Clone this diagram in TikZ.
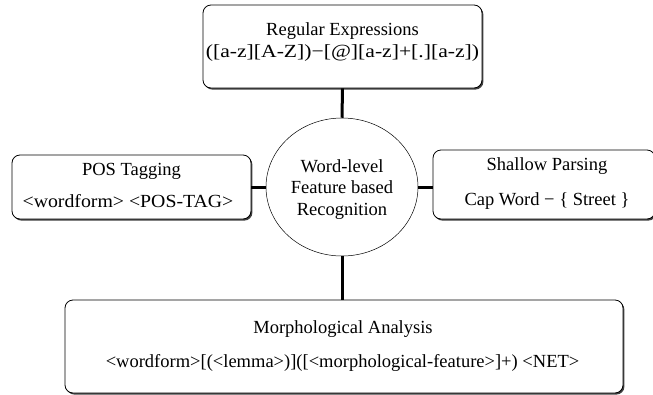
\documentclass[tikz,border=0pt]{standalone}
\usepackage{fontspec}
\setmainfont{Liberation Serif}
\usetikzlibrary{shapes.geometric,shadows}
\begin{document}
\begin{tikzpicture}[x=1pt,y=-1pt,
  box/.style={draw=black, line width=0.8pt, fill=white, rounded corners=8pt,
    drop shadow={shadow xshift=1.4pt, shadow yshift=-1.6pt, fill=black!75, opacity=1},
    inner sep=0pt},
  hub/.style={draw=black, line width=0.5pt, fill=white, ellipse, inner sep=0pt},
  txt/.style={anchor=base, inner sep=0pt, font=\fontsize{18.5}{22}\selectfont},
  link/.style={line width=3pt}
]
\useasboundingbox (0,0) rectangle (653,394);

% frames
\node[box, minimum width=279pt, minimum height=83pt] (regex) at (342.5,46.5) {};
\node[box, minimum width=239pt, minimum height=64pt] (pos) at (131.5,187) {};
\node[box, minimum width=222pt, minimum height=69pt] (shallow) at (544,184.5) {};
\node[box, minimum width=558pt, minimum height=93pt] (morph) at (344,346.5) {};
\node[hub, minimum width=152pt, minimum height=138pt] (core) at (342,187) {};

% labels
\node[txt] (regexA) at (342.5,35) {Regular Expressions};
\node[txt] (regexB) at (342.5,57) {\scalebox{1.17}[1]{([a-z][A-Z])−[@][a-z]+[.][a-z])}};
\node[txt] (posA) at (131.5,175) {POS Tagging};
\node[txt] (posB) at (128,207) {\scalebox{1.07}[1]{<wordform> <POS-TAG>}};
\node[txt] (shA) at (547,170) {Shallow Parsing};
\node[txt] (shB) at (547,205) {Cap Word − \{ Street \}};
\node[txt] (coreA) at (342,172) {Word-level};
\node[txt] (coreB) at (342,193) {Feature based};
\node[txt] (coreC) at (342,215) {Recognition};
\node[txt] (morA) at (343,333) {Morphological Analysis};
\node[txt] (morB) at (342.5,367) {<wordform>[(<lemma>)]([<morphological-feature>]+) <NET>};

% connectors
\draw[link] (regex.south) -- (core.north);
\draw[link] (pos.east) -- (pos.east -| core.west);
\draw[link] (core.east) -- (core.east -| shallow.west);
\draw[link] (core.south) -- (core.south |- morph.north);
\end{tikzpicture}
\end{document}
